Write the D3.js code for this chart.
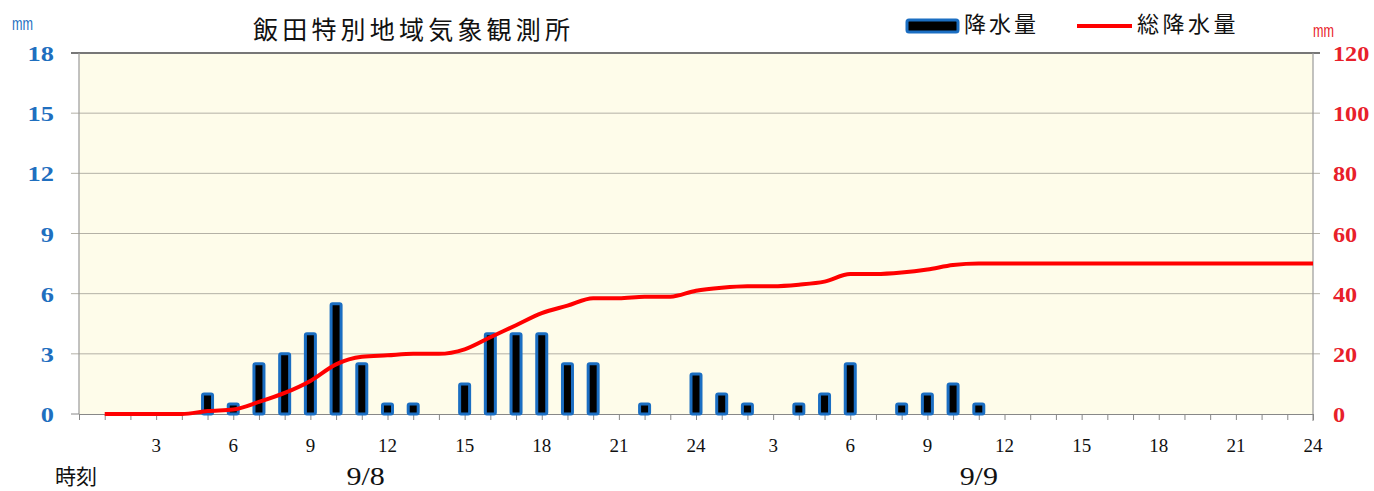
<!DOCTYPE html>
<meta charset="utf-8">
<style>
body { margin: 0; background: #fff; }
svg { display: block; }
.serif { font-family: "Liberation Serif", "DejaVu Serif", serif; }
.jp { font-family: "Noto Sans CJK JP", "Noto Sans", sans-serif; }
</style>
<script src="https://d3js.org/d3.v7.min.js"></script>
<body>
<svg id="chart"></svg>
<script>

var width = 1374,
    height = 491;

// hourly data, hour 1 .. 48 (9/8 1:00 to 9/9 24:00)
var hours = d3.range(1, 49);
var rain = [0, 0, 0, 0, 1, 0.5, 2.5, 3, 4, 5.5, 2.5, 0.5,
            0.5, 0, 1.5, 4, 4, 4, 2.5, 2.5, 0, 0.5, 0, 2,
            1, 0.5, 0, 0.5, 1, 2.5, 0, 0.5, 1, 1.5, 0.5, 0,
            0, 0, 0, 0, 0, 0, 0, 0, 0, 0, 0, 0];
var leftTicks = [0, 3, 6, 9, 12, 15, 18];
var rightTicks = [0, 20, 40, 60, 80, 100, 120];
var labelHours = d3.range(3, 49, 3);
var days = [{label: "9/8", at: 11.15}, {label: "9/9", at: 35.0}];

var total = [];
var acc = 0;
rain.forEach(function(v) { acc += v; total.push(acc); });

var svg = d3.select("#chart").attr("width", width).attr("height", height);

// plot area edges (window.top is reserved, so use other names)
var plotL = 79, plotR = 1313, plotT = 53, plotB = 414;

var x = d3.scaleLinear().domain([0, 48]).range([plotL, plotR]);
var y = d3.scaleLinear().domain([0, 18]).range([plotB, plotT]);
var y2 = d3.scaleLinear().domain([0, 120]).range([plotB, plotT]);

// plot background
svg.append("rect")
  .attr("x", plotL).attr("y", plotT)
  .attr("width", plotR - plotL).attr("height", plotB - plotT)
  .attr("fill", "#fefcea");

// grid lines
svg.append("g").selectAll("line")
  .data(leftTicks.slice(1))
  .enter().append("line")
  .attr("x1", plotL - 8).attr("x2", plotR + 7)
  .attr("y1", function(d) { return y(d); })
  .attr("y2", function(d) { return y(d); })
  .attr("stroke", function(d) { return d == 18 ? "#777" : "#b4b1a6"; })
  .attr("stroke-width", function(d) { return d == 18 ? 2 : 1; });

// frame sides
svg.append("line").attr("x1", plotL).attr("x2", plotL).attr("y1", plotT).attr("y2", plotB)
  .attr("stroke", "#999").attr("stroke-width", 1.2);
svg.append("line").attr("x1", plotR).attr("x2", plotR).attr("y1", plotT).attr("y2", plotB + 7)
  .attr("stroke", "#999").attr("stroke-width", 1.2);

// x axis
var xAxis = d3.axisBottom(x)
  .tickValues(d3.range(0, 49))
  .tickSize(6)
  .tickFormat("");
svg.append("g")
  .attr("transform", "translate(0," + plotB + ")")
  .call(xAxis)
  .call(function(g) {
    g.select(".domain").attr("stroke", "#888");
    g.selectAll(".tick line").attr("stroke", "#888");
  });
svg.append("line").attr("x1", plotL - 8).attr("x2", plotL).attr("y1", plotB).attr("y2", plotB)
  .attr("stroke", "#888");

svg.append("g").selectAll("text")
  .data(labelHours)
  .enter().append("text")
  .attr("class", "serif")
  .attr("x", function(d) { return x(d); })
  .attr("y", 452)
  .attr("text-anchor", "middle")
  .attr("font-size", 19)
  .attr("fill", "#111")
  .text(function(d) { return (d - 1) % 24 + 1; });

svg.append("g").selectAll("text")
  .data(days)
  .enter().append("text")
  .attr("class", "serif")
  .attr("transform", function(d) { return "translate(" + x(d.at) + ",485) scale(1.2,1)"; })
  .attr("text-anchor", "middle")
  .attr("font-size", 25)
  .attr("fill", "#111")
  .text(function(d) { return d.label; });

svg.append("text")
  .attr("class", "jp")
  .attr("x", 55).attr("y", 484)
  .attr("font-size", 21)
  .attr("fill", "#111")
  .text("時刻");

// left axis labels
svg.append("g").selectAll("text")
  .data(leftTicks)
  .enter().append("text")
  .attr("class", "serif")
  .attr("transform", function(d) { return "translate(54," + (y(d) + 8) + ") scale(1.2,1)"; })
  .attr("text-anchor", "end")
  .attr("font-size", 22)
  .attr("font-weight", "bold")
  .attr("fill", "#1f6fbf")
  .text(function(d) { return d; });

svg.append("text")
  .attr("x", 12).attr("y", 30)
  .attr("font-family", "Liberation Sans Narrow, Liberation Sans, sans-serif")
  .attr("font-size", 19)
  .attr("textLength", 21)
  .attr("lengthAdjust", "spacingAndGlyphs")
  .attr("fill", "#1f6fbf")
  .text("mm");

// right axis labels
svg.append("g").selectAll("text")
  .data(rightTicks)
  .enter().append("text")
  .attr("class", "serif")
  .attr("transform", function(d) { return "translate(1333," + (y2(d) + 8) + ") scale(1.1,1)"; })
  .attr("text-anchor", "start")
  .attr("font-size", 22)
  .attr("font-weight", "bold")
  .attr("fill", "#e8202a")
  .text(function(d) { return d; });

svg.append("text")
  .attr("x", 1313).attr("y", 37)
  .attr("font-family", "Liberation Sans Narrow, Liberation Sans, sans-serif")
  .attr("font-size", 19)
  .attr("textLength", 21)
  .attr("lengthAdjust", "spacingAndGlyphs")
  .attr("fill", "#e8202a")
  .text("mm");

// bars
var bw = 10;
svg.append("g").selectAll("rect")
  .data(hours.filter(function(h) { return rain[h - 1] > 0; }))
  .enter().append("rect")
  .attr("x", function(h) { return x(h) - bw / 2; })
  .attr("y", function(h) { return y(rain[h - 1]); })
  .attr("width", bw)
  .attr("height", function(h) { return plotB - y(rain[h - 1]); })
  .attr("rx", 1.5)
  .attr("fill", "#000")
  .attr("stroke", "#1b6ec2")
  .attr("stroke-width", 3);

// cumulative line
var line = d3.line()
  .x(function(h) { return x(h); })
  .y(function(h) { return y2(total[h - 1]); })
  .curve(d3.curveMonotoneX);

svg.append("path")
  .datum(hours)
  .attr("d", line)
  .attr("fill", "none")
  .attr("stroke", "#ff0000")
  .attr("stroke-width", 4)
  .attr("stroke-linejoin", "round");

// title
svg.append("text")
  .attr("class", "jp")
  .attr("x", 253).attr("y", 39)
  .attr("font-size", 25)
  .attr("letter-spacing", 4.2)
  .attr("fill", "#111")
  .text("飯田特別地域気象観測所");

// legend
svg.append("rect")
  .attr("x", 907).attr("y", 20)
  .attr("width", 51).attr("height", 12)
  .attr("rx", 2)
  .attr("fill", "#000")
  .attr("stroke", "#1b6ec2")
  .attr("stroke-width", 3);
svg.append("text")
  .attr("class", "jp")
  .attr("x", 964).attr("y", 32)
  .attr("font-size", 22)
  .attr("letter-spacing", 3)
  .attr("fill", "#111")
  .text("降水量");

svg.append("line")
  .attr("x1", 1077).attr("x2", 1132)
  .attr("y1", 26).attr("y2", 26)
  .attr("stroke", "#ff0000")
  .attr("stroke-width", 4);
svg.append("text")
  .attr("class", "jp")
  .attr("x", 1137).attr("y", 32)
  .attr("font-size", 22)
  .attr("letter-spacing", 3.5)
  .attr("fill", "#111")
  .text("総降水量");

</script>
</body>
